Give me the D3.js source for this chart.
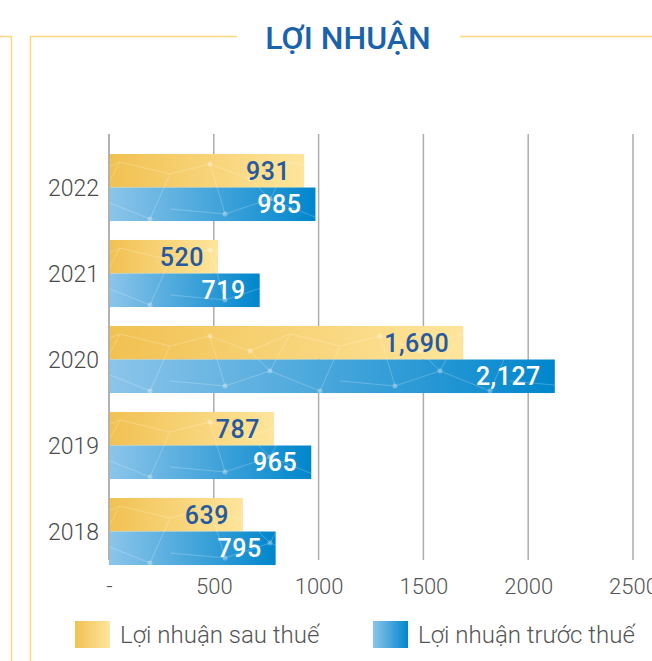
<!DOCTYPE html>
<html>
<head>
<meta charset="utf-8">
<script src="https://cdn.jsdelivr.net/npm/d3@7"></script>
<style>
  body { margin: 0; background: #fff; }
  svg { display: block; font-family: Roboto, "Noto Sans", sans-serif; }
</style>
</head>
<body>
<div id="chart"></div>
<script>
var width = 652;
var height = 661;

// data
var years = ["2022", "2021", "2020", "2019", "2018"];
var sauThue = [931, 520, 1690, 787, 639];      // Lợi nhuận sau thuế
var truocThue = [985, 719, 2127, 965, 795];    // Lợi nhuận trước thuế
var xTicks = [0, 500, 1000, 1500, 2000, 2500];
var seriesNames = ["Lợi nhuận sau thuế", "Lợi nhuận trước thuế"];

var rows = years.map(function(y, i) {
    return { year: y, values: [sauThue[i], truocThue[i]] };
});

var svg = d3.select("#chart")
    .append("svg")
    .attr("width", width)
    .attr("height", height);

var defs = svg.append("defs");

var gradYellow = defs.append("linearGradient").attr("id", "gYellow");
gradYellow.append("stop").attr("offset", "0%").attr("stop-color", "#f1c152");
gradYellow.append("stop").attr("offset", "100%").attr("stop-color", "#fee59c");

var gradBlue = defs.append("linearGradient").attr("id", "gBlue");
gradBlue.append("stop").attr("offset", "0%").attr("stop-color", "#8cc5ea");
gradBlue.append("stop").attr("offset", "100%").attr("stop-color", "#0086cc");

// faint network texture on the bars
var pat = defs.append("pattern")
    .attr("id", "net")
    .attr("patternUnits", "userSpaceOnUse")
    .attr("width", 170).attr("height", 70);
pat.append("path")
    .attr("d", "M0,20 L40,10 L80,25 L120,8 L170,20 M40,10 L55,60 L100,45 L120,8 M0,55 L55,60 M100,45 L150,65 L170,20 M80,25 L100,45")
    .attr("fill", "none")
    .attr("stroke", "rgba(255,255,255,0.28)")
    .attr("stroke-width", 0.8);
[[40, 10], [80, 25], [55, 60], [100, 45], [150, 65]].forEach(function(p) {
    pat.append("circle").attr("cx", p[0]).attr("cy", p[1]).attr("r", 2.5)
        .attr("fill", "rgba(255,255,255,0.3)");
});

// frame lines
var frame = "#fdd77c";
svg.append("path")
    .attr("d", "M0,36.5 H11.5 V661 M30.5,661 V36.5 H237 M460,36.5 H652")
    .attr("fill", "none")
    .attr("stroke", frame)
    .attr("stroke-width", 1.5);

svg.append("text")
    .attr("x", 348)
    .attr("y", 49)
    .attr("text-anchor", "middle")
    .style("font-size", "32px")
    .style("font-weight", 500)
    .style("fill", "#1a63aa")
    .text("LỢI NHUẬN");

// scales
var xScale = d3.scaleLinear().domain([0, 2500]).range([109, 633]);
var yScale = d3.scaleBand().domain(years).range([144.5, 574.5])
    .paddingInner(0.22).paddingOuter(0.11);
var subScale = d3.scaleBand().domain([0, 1]).range([0, yScale.bandwidth()]);

// grid
svg.append("g")
    .selectAll("line")
    .data(xTicks)
    .enter()
    .append("line")
    .attr("x1", function(d) { return xScale(d); })
    .attr("x2", function(d) { return xScale(d); })
    .attr("y1", 134)
    .attr("y2", 560)
    .attr("stroke", "#adadad")
    .attr("stroke-width", 1.5);

// x axis labels
var xAxis = d3.axisBottom(xScale)
    .tickValues(xTicks)
    .tickSize(0)
    .tickPadding(0)
    .tickFormat(function(d) { return d === 0 ? "-" : d; });

svg.append("g")
    .attr("transform", "translate(0,578)")
    .call(xAxis)
    .call(function(g) { g.select(".domain").remove(); })
    .selectAll("text")
    .attr("dy", "0.71em")
    .style("font-family", "Roboto, sans-serif")
    .style("font-size", "22px")
    .style("font-weight", 300)
    .style("fill", "#555");

// year labels
svg.append("g")
    .selectAll("text")
    .data(years)
    .enter()
    .append("text")
    .attr("x", 99)
    .attr("y", function(d) { return yScale(d) + yScale.bandwidth() / 2; })
    .attr("dy", "0.38em")
    .attr("text-anchor", "end")
    .style("font-size", "23px")
    .style("font-weight", 300)
    .style("fill", "#4a4a4a")
    .text(function(d) { return d; });

var fills = ["url(#gYellow)", "url(#gBlue)"];
var labelColors = ["#27599f", "#ffffff"];
var fmt = d3.format(",");

var groups = svg.append("g")
    .selectAll("g")
    .data(rows)
    .enter()
    .append("g")
    .attr("transform", function(d) { return "translate(0," + yScale(d.year) + ")"; });

var bars = groups.selectAll("g")
    .data(function(d) { return d.values; })
    .enter()
    .append("g");

bars.append("rect")
    .attr("x", xScale(0))
    .attr("y", function(d, i) { return subScale(i); })
    .attr("width", function(d) { return xScale(d) - xScale(0); })
    .attr("height", subScale.bandwidth())
    .attr("fill", function(d, i) { return fills[i]; });

bars.append("rect")
    .attr("x", xScale(0))
    .attr("y", function(d, i) { return subScale(i); })
    .attr("width", function(d) { return xScale(d) - xScale(0); })
    .attr("height", subScale.bandwidth())
    .attr("fill", "url(#net)");

bars.append("text")
    .attr("x", function(d) { return xScale(d) - 14; })
    .attr("y", function(d, i) { return subScale(i) + subScale.bandwidth() / 2; })
    .attr("dy", "0.36em")
    .attr("text-anchor", "end")
    .style("font-size", "25px")
    .style("font-weight", 500)
    .style("letter-spacing", "0.5px")
    .style("fill", function(d, i) { return labelColors[i]; })
    .text(function(d) { return fmt(d); });

// y axis line
svg.append("line")
    .attr("x1", xScale(0)).attr("x2", xScale(0))
    .attr("y1", 134).attr("y2", 560)
    .attr("stroke", "#adadad")
    .attr("stroke-width", 1.5);

// legend
var legend = svg.append("g")
    .selectAll("g")
    .data(seriesNames)
    .enter()
    .append("g")
    .attr("transform", function(d, i) { return "translate(" + [75, 373][i] + ",621)"; });

legend.append("rect")
    .attr("width", 35)
    .attr("height", 27)
    .attr("fill", function(d, i) { return fills[i]; });

legend.append("text")
    .attr("x", 45)
    .attr("y", 22)
    .style("font-size", "24px")
    .style("font-weight", 300)
    .style("fill", "#555")
    .text(function(d) { return d; });
</script>
</body>
</html>
